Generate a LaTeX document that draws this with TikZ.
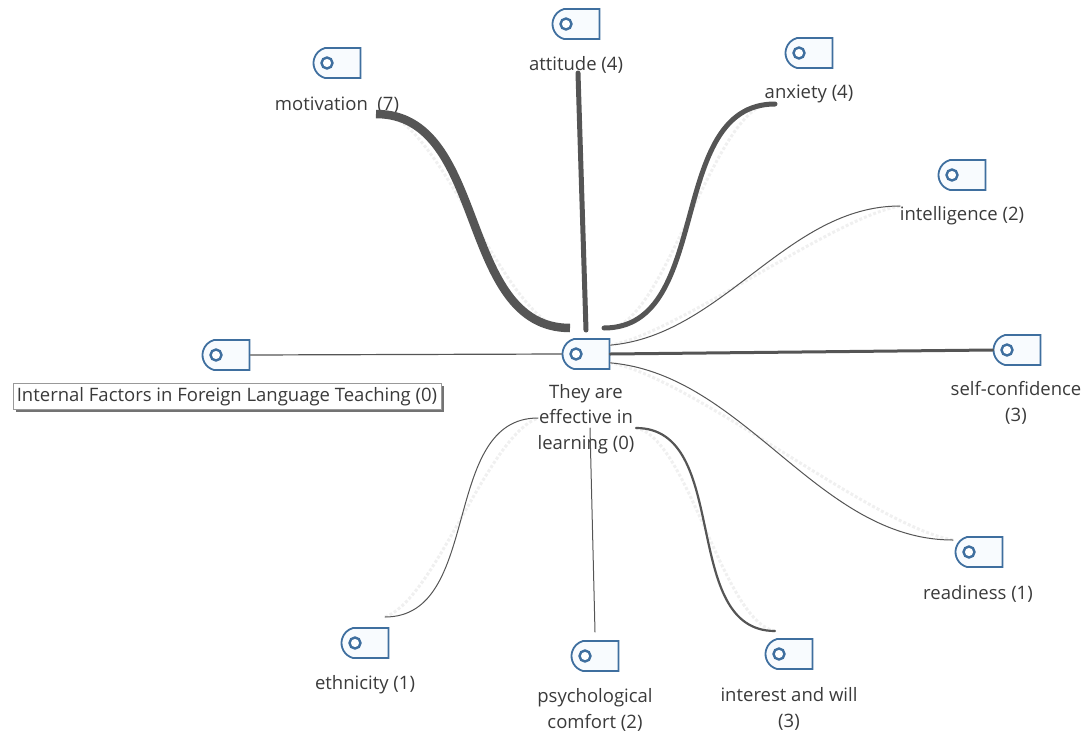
\documentclass[tikz,border=0pt]{standalone}
\usepackage{fontspec}
\setmainfont{Open Sans}
\usetikzlibrary{shapes.misc,shadows}
\definecolor{iconblue}{HTML}{3F6F9F}
\definecolor{iconfill}{HTML}{F8FBFE}
\definecolor{edgegray}{HTML}{555555}
\definecolor{textgray}{HTML}{3A3A3A}
\tikzset{
  code/.style={rounded rectangle, rounded rectangle east arc=none, rounded rectangle arc length=150, draw=iconblue, line width=1.8pt, fill=iconfill, minimum width=47pt, minimum height=30pt, inner sep=0pt},
  ring/.style={circle, draw=iconblue, line width=2.4pt, fill=white, minimum size=11pt, inner sep=0pt},
  codetext/.style={text=textgray, font=\fontsize{18.5}{25.5}\selectfont, align=center, inner sep=0pt},
  tie/.style={draw=edgegray, line cap=round},
  shade/.style={draw=black!6, line width=3pt, dotted}
}
\begin{document}
\begin{tikzpicture}[x=1pt, y=-1pt]
  \useasboundingbox (0,0) rectangle (1088,731);
  % Free ends of the ties
  \coordinate (motivationend) at (376,114);
  \coordinate (attitudeend) at (578,73);
  \coordinate (anxietyend) at (775,104);
  \coordinate (intelligenceend) at (900,206);
  \coordinate (readinessend) at (953,540);
  \coordinate (interestend) at (775,631);
  \coordinate (comfortend) at (595,632);
  \coordinate (ethnicityend) at (385,617);
  \coordinate (hubleft) at (570,328);
  \coordinate (hubmid) at (586,330);
  \coordinate (hubright) at (604,328);
  \coordinate (learnleft) at (538,418);
  \coordinate (learnmid) at (590,428);
  \coordinate (learnright) at (636,428);
  % Codes
  \foreach \name/\x/\y in {motivation/337/63, attitude/576/24, anxiety/809/53, intelligence/962/175, confidence/1017/350, readiness/979/552, interest/789/654, comfort/595/656, ethnicity/365/643, factors/226/355, hub/586/354} {
    \node[code] (\name) at (\x,\y) {};
    \node[ring] (\name ring) at (\x-10,\y) {};
  }
  % Hatching beside the thin ties
  \foreach \source/\target/\o/\n in {intelligenceend/hub.20/190/10, readinessend/hub.340/170/-10, ethnicityend/learnleft/20/200, motivationend/hubleft/10/190, anxietyend/hubright/170/-10, interestend/learnright/170/-10} {
    \draw[shade] (\source) to[out=\o, in=\n, looseness=0.55] (\target);
  }
  % Labels
  \foreach \name/\x/\y/\t in {motivation/337/105/{motivation\ \ (7)}, attitude/576/65/{attitude (4)}, anxiety/809/94/{anxiety (4)}, intelligence/962/216/{intelligence (2)}, confidence/1016/403/{self-confidence\\(3)}, readiness/978/594/{readiness (1)}, interest/789/709/{interest and will\\(3)}, comfort/595/710/{psychological\\comfort (2)}, ethnicity/365/685/{ethnicity (1)}, hub/586/419/{They are\\effective in\\learning (0)}} {
    \node[codetext] (\name label) at (\x,\y) {\t};
  }
  \node[codetext, draw=black!40, fill=white, line width=1pt, inner sep=2pt, text depth=6pt, text height=16pt, minimum width=428pt, minimum height=26pt, drop shadow={shadow xshift=2.5pt, shadow yshift=-2.5pt, fill=black!55, opacity=1}] (factors label) at (227,396) {Internal Factors in Foreign Language Teaching (0)};
  % Edges
  \draw[tie, line width=8.5pt, line cap=butt] (motivationend) to[out=0, in=180, looseness=1] (hubleft);
  \draw[tie, line width=5pt] (attitudeend) -- (hubmid);
  \draw[tie, line width=5pt] (anxietyend) to[out=180, in=0, looseness=1] (hubright);
  \draw[tie, line width=1pt] (intelligenceend) to[out=180, in=5, looseness=0.9] (hub.20);
  \draw[tie, line width=3pt] (hub.east) -- (confidence.west);
  \draw[tie, line width=1pt] (readinessend) to[out=180, in=-5, looseness=0.9] (hub.340);
  \draw[tie, line width=2.2pt] (interestend) to[out=180, in=0, looseness=1] (learnright);
  \draw[tie, line width=1pt] (comfortend) -- (learnmid);
  \draw[tie, line width=1pt] (ethnicityend) to[out=0, in=180, looseness=1] (learnleft);
  \draw[tie, line width=1.2pt] (factors.east) -- (hub.west);
\end{tikzpicture}
\end{document}
